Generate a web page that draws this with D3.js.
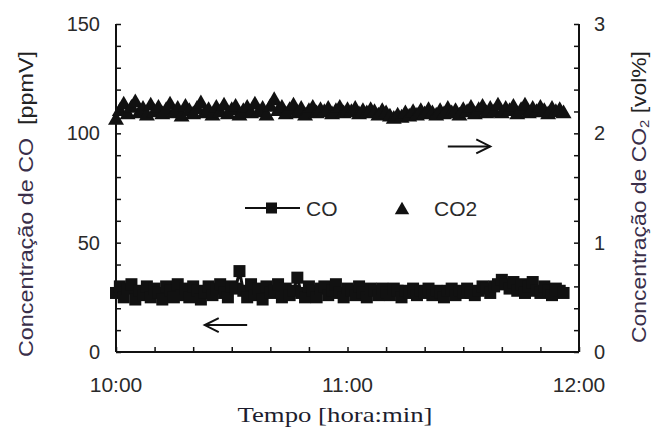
<!DOCTYPE html>
<html>
<head>
<meta charset="utf-8">
<script src="https://cdn.jsdelivr.net/npm/d3@7/dist/d3.min.js"></script>
<style>
  html, body { margin: 0; padding: 0; background: #fff; }
  svg { display: block; }
  text { font-family: Arial, "Liberation Sans", sans-serif; }
</style>
</head>
<body>
<svg id="chart" width="653" height="429"></svg>
<script>
// Minutes after 10:00 for each reading (one reading per minute)
const minutes = d3.range(0, 117);

// CO concentration [ppmV]
const coValues = [
  27, 30, 25, 29, 31, 24, 28, 26, 30, 25, 29,
  27, 24, 30, 28, 25, 31, 26, 29, 25, 30,
  28, 24, 27, 30, 26, 29, 31, 27, 25, 30,
  29, 37, 28, 25, 31, 26, 29, 24, 30, 27,
  28, 31, 25, 29, 26, 28, 34, 27, 25, 30,
  28, 25, 29, 30, 26, 28, 31, 27, 25, 29,
  28, 26, 30, 27, 25, 29, 28, 26, 29, 27,
  26, 29, 28, 25, 28, 27, 29, 26, 28, 27,
  29, 26, 28, 27, 25, 28, 29, 26, 28, 27,
  29, 27, 26, 28, 30, 29, 27, 30, 31, 33,
  31, 29, 32, 28, 31, 27, 30, 32, 28, 27,
  30, 28, 26, 29, 28, 27
];

// CO2 concentration [vol%]
const co2Values = [
  2.12, 2.20, 2.26, 2.17, 2.23, 2.28, 2.18, 2.22, 2.16, 2.25, 2.19,
  2.23, 2.17, 2.21, 2.26, 2.18, 2.22, 2.15, 2.24, 2.20, 2.17,
  2.22, 2.27, 2.18, 2.21, 2.16, 2.23, 2.19, 2.25, 2.17, 2.21,
  2.24, 2.16, 2.20, 2.23, 2.18, 2.26, 2.19, 2.22, 2.16, 2.24,
  2.30, 2.20, 2.23, 2.17, 2.21, 2.25, 2.18, 2.22, 2.16, 2.20,
  2.23, 2.18, 2.21, 2.19, 2.22, 2.17, 2.20, 2.23, 2.18, 2.21,
  2.19, 2.22, 2.17, 2.20, 2.18, 2.21, 2.19, 2.16, 2.20, 2.18,
  2.15, 2.13, 2.16, 2.14, 2.18, 2.15, 2.19, 2.16, 2.20, 2.17,
  2.21, 2.18, 2.16, 2.20, 2.17, 2.22, 2.18, 2.20, 2.16, 2.21,
  2.19, 2.23, 2.17, 2.21, 2.24, 2.18, 2.22, 2.19, 2.25, 2.18,
  2.22, 2.20, 2.24, 2.17, 2.21, 2.25, 2.18, 2.22, 2.19, 2.23,
  2.20, 2.17, 2.22, 2.19, 2.21, 2.18
];

// Axis tick labels
const xTickMinutes = [0, 60, 120];
const xTickLabels = ["10:00", "11:00", "12:00"];
const leftTicks = [0, 50, 100, 150];
const rightTicks = [0, 1, 2, 3];

const svg = d3.select("#chart");
const margin = { left: 116, right: 74, top: 24, bottom: 77 };
const W = 653, H = 429;

const x = d3.scaleLinear().domain([0, 120]).range([margin.left, W - margin.right]);
const yL = d3.scaleLinear().domain([0, 150]).range([H - margin.bottom, margin.top]);
const yR = d3.scaleLinear().domain([0, 3]).range([H - margin.bottom, margin.top]);

const ink = "#111";
const labelInk = "#2a2a2a";

// ---- data: CO2 triangles (right axis) ----
const tri = d3.symbol().type(d3.symbolTriangle).size(110);
svg.append("g").selectAll("path")
  .data(minutes)
  .join("path")
  .attr("d", tri)
  .attr("transform", i => `translate(${x(minutes[i])},${yR(co2Values[i])})`)
  .attr("fill", ink);

// ---- data: CO squares joined by a line (left axis) ----
const coLine = d3.line().x(i => x(minutes[i])).y(i => yL(coValues[i]));
svg.append("path")
  .attr("d", coLine(minutes))
  .attr("fill", "none")
  .attr("stroke", ink)
  .attr("stroke-width", 3);
const sq = 12;
svg.append("g").selectAll("rect")
  .data(minutes)
  .join("rect")
  .attr("x", i => x(minutes[i]) - sq / 2)
  .attr("y", i => yL(coValues[i]) - sq / 2)
  .attr("width", sq).attr("height", sq)
  .attr("fill", ink);

// ---- axes with inward ticks ----
const axisW = 2;
const bottomAx = svg.append("g")
  .attr("transform", `translate(0,${yL(0)})`)
  .call(d3.axisBottom(x).tickValues(d3.range(0, 121, 10)).tickSize(-5).tickFormat(""));
const leftAx = svg.append("g")
  .attr("transform", `translate(${x(0)},0)`)
  .call(d3.axisLeft(yL).tickValues(d3.range(0, 151, 10)).tickSize(-5).tickFormat(""));
const rightAx = svg.append("g")
  .attr("transform", `translate(${x(120)},0)`)
  .call(d3.axisRight(yR).tickValues(d3.range(0, 3.01, 0.2)).tickSize(-5).tickFormat(""));
[bottomAx, leftAx, rightAx].forEach(g => {
  g.select(".domain").attr("stroke", ink).attr("stroke-width", axisW);
  g.selectAll(".tick line").attr("stroke", ink).attr("stroke-width", 1.5);
});
// drop the outer end caps of each domain path
bottomAx.select(".domain").attr("d", `M${x(0)},0H${x(120)}`);
leftAx.select(".domain").attr("d", `M0,${yL(150)}V${yL(0)}`);
rightAx.select(".domain").attr("d", `M0,${yR(3)}V${yR(0)}`);

// ---- tick labels ----
svg.append("g").selectAll("text")
  .data(leftTicks).join("text")
  .attr("x", x(0) - 16).attr("y", d => yL(d) + 7)
  .attr("text-anchor", "end").attr("font-size", 20).attr("fill", labelInk)
  .text(d => d);
svg.append("g").selectAll("text")
  .data(rightTicks).join("text")
  .attr("x", x(120) + 15).attr("y", d => yR(d) + 7)
  .attr("text-anchor", "start").attr("font-size", 20).attr("fill", labelInk)
  .text(d => d);
svg.append("g").selectAll("text")
  .data(xTickMinutes).join("text")
  .attr("x", d => x(d)).attr("y", yL(0) + 40)
  .attr("text-anchor", "middle").attr("font-size", 21).attr("fill", labelInk)
  .text((d, i) => xTickLabels[i]);

// ---- axis titles ----
svg.append("text")
  .attr("x", 335).attr("y", 422)
  .attr("text-anchor", "middle")
  .style("font-family", "'Liberation Serif', 'Times New Roman', serif")
  .attr("font-size", 22).attr("fill", "#1d1d2e")
  .attr("textLength", 195).attr("lengthAdjust", "spacingAndGlyphs")
  .text("Tempo [hora:min]");

const leftTitle = svg.append("text")
  .attr("transform", "translate(33,204) rotate(-90)")
  .attr("text-anchor", "middle").attr("font-size", 20)
  .attr("textLength", 306).attr("lengthAdjust", "spacingAndGlyphs");
leftTitle.append("tspan").attr("fill", "#3a2f4a").text("Concentração de CO");
leftTitle.append("tspan").attr("fill", "#222").text("\u00a0\u00a0[ppmV]");

const rightTitle = svg.append("text")
  .attr("transform", "translate(646,197) rotate(-90)")
  .attr("text-anchor", "middle").attr("font-size", 20)
  .attr("textLength", 292).attr("lengthAdjust", "spacingAndGlyphs");
rightTitle.append("tspan").attr("fill", "#3a2f4a").text("Concentração de CO");
rightTitle.append("tspan").attr("fill", "#3a2f4a").attr("font-size", 13).attr("dy", 3).text("2");
rightTitle.append("tspan").attr("fill", "#222").attr("dy", -3).text("\u00a0[vol%]");

// ---- legend ----
const legend = svg.append("g");
legend.append("line").attr("x1", 245).attr("x2", 300).attr("y1", 208).attr("y2", 208)
  .attr("stroke", ink).attr("stroke-width", 2);
legend.append("rect").attr("x", 266).attr("y", 202.5).attr("width", 11).attr("height", 11).attr("fill", ink);
legend.append("text").attr("x", 306).attr("y", 216).attr("font-size", 21).attr("fill", labelInk).text("CO");
legend.append("path").attr("d", d3.symbol().type(d3.symbolTriangle).size(90))
  .attr("transform", "translate(402,210)").attr("fill", ink);
legend.append("text").attr("x", 434).attr("y", 216).attr("font-size", 21).attr("fill", labelInk).text("CO2");

// ---- arrows pointing to each series' axis ----
function arrow(x1, x2, y, dir) {
  const g = svg.append("g").attr("stroke", ink).attr("stroke-width", 2).attr("fill", "none");
  g.append("line").attr("x1", x1).attr("x2", x2).attr("y1", y).attr("y2", y);
  const tip = dir > 0 ? x2 : x1;
  g.append("path").attr("d", `M${tip - dir * 14},${y - 7}L${tip},${y}L${tip - dir * 14},${y + 7}`);
}
// CO2 -> right axis
arrow(x(86), x(97), yR(1.88), 1);
// CO -> left axis
arrow(x(23), x(34), yL(12.3), -1);
</script>
</body>
</html>
